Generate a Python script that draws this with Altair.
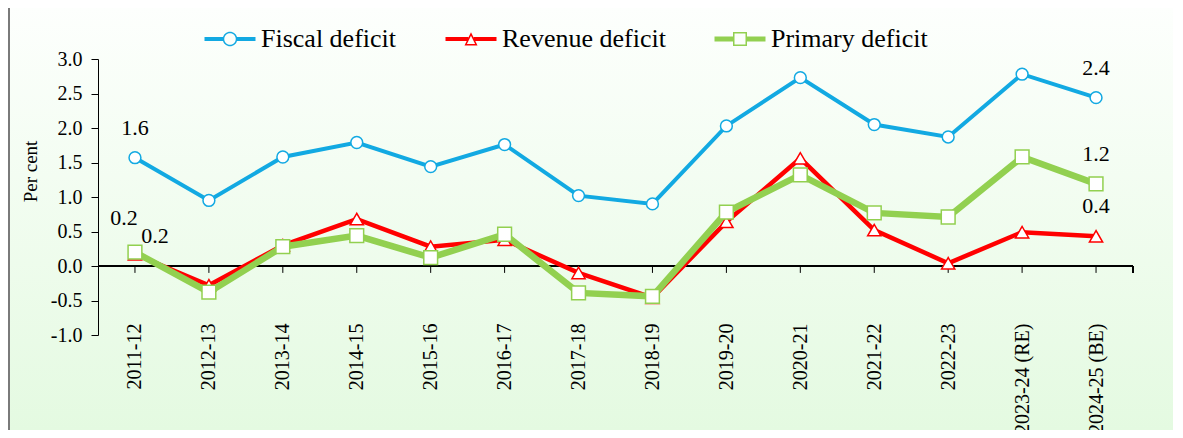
import math
import altair as alt
import pandas as pd

# ---------------- data ----------------
years = ["2011-12", "2012-13", "2013-14", "2014-15", "2015-16", "2016-17", "2017-18",
         "2018-19", "2019-20", "2020-21", "2021-22", "2022-23", "2023-24 (RE)", "2024-25 (BE)"]
fiscal = [1.57, 0.95, 1.58, 1.79, 1.44, 1.76, 1.02, 0.90, 2.03, 2.73, 2.05, 1.87, 2.78, 2.44]
revenue = [0.17, -0.28, 0.30, 0.68, 0.28, 0.38, -0.10, -0.46, 0.64, 1.56, 0.52, 0.04, 0.49, 0.43]
primary = [0.20, -0.38, 0.28, 0.44, 0.12, 0.46, -0.39, -0.44, 0.78, 1.32, 0.77, 0.71, 1.58, 1.19]

series_names = ["Fiscal deficit", "Revenue deficit", "Primary deficit"]
series_values = [fiscal, revenue, primary]
colors = ["#12A9E2", "#FF0000", "#92D050"]
y_ticks = [-1.0, -0.5, 0.0, 0.5, 1.0, 1.5, 2.0, 2.5, 3.0]

# labelled points (series, year)
labels_main = [("Fiscal deficit", "2011-12"), ("Fiscal deficit", "2024-25 (BE)"),
               ("Revenue deficit", "2024-25 (BE)"), ("Primary deficit", "2024-25 (BE)")]
label_left = [("Primary deficit", "2011-12")]
label_right = [("Revenue deficit", "2011-12")]

rows = []
for name, vals in zip(series_names, series_values):
    for yr, v in zip(years, vals):
        rows.append({"series": name, "year": yr, "value": v})
df = pd.DataFrame(rows)
df_years = pd.DataFrame({"year": years})


def pick(pairs):
    keys = set(pairs)
    return df[[(s, y) in keys for s, y in zip(df["series"], df["year"])]]


FONT = "Liberation Serif"
W, H = 1035, 276
PL, PT, PR, PB = 90, 51, 40, 95

# ---------------- legend symbol paths (line + hollow marker) ----------------
def poly(pts):
    return "M" + "L".join(f"{x:.3f},{y:.3f}" for x, y in pts) + "Z"


def circle(r, cw=True, n=36):
    pts = []
    for i in range(n):
        a = 2 * math.pi * i / n
        if not cw:
            a = -a
        pts.append((r * math.cos(a), r * math.sin(a)))
    return poly(pts)


def bars(inner, half, outer=5.1):
    return (poly([(-outer, -half), (-inner, -half), (-inner, half), (-outer, half)]) +
            poly([(inner, -half), (outer, -half), (outer, half), (inner, half)]))


p_circle = bars(1.35, 0.4) + circle(1.45, True) + circle(1.15, False)
p_tri = (bars(0.55, 0.4) + poly([(0, -1.35), (1.3, 1.3), (-1.3, 1.3)]) +
         poly([(0, -0.67), (-0.82, 1.0), (0.82, 1.0)]))
p_sq = (bars(1.4, 0.5) + poly([(-1.4, -1.4), (1.4, -1.4), (1.4, 1.4), (-1.4, 1.4)]) +
        poly([(-1.1, -1.1), (-1.1, 1.1), (1.1, 1.1), (1.1, -1.1)]))

legend = alt.Legend(
    orient="none", legendX=98, legendY=-33, direction="horizontal", title=None,
    labelFont=FONT, labelFontSize=26, labelColor="black", labelLimit=400, symbolSize=100,
    symbolOffset=21, labelOffset=18, columnPadding=40, zindex=1,
    symbolStrokeWidth=0, symbolOpacity=1,
)

x_scale = alt.Scale(type="point", domain=years, padding=0.5)
x_axis = alt.Axis(title=None, orient="bottom", domain=False, ticks=False, tickSize=0,
                  labelAngle=270, labelFont=FONT, labelFontSize=20, labelColor="black",
                  labelPadding=0, offset=-12, labelOverlap=False, zindex=1)
x_enc = alt.X("year:N", sort=years, scale=x_scale, axis=x_axis)

y_scale = alt.Scale(domain=[-1, 3], nice=False, zero=False)
y_axis = alt.Axis(values=y_ticks, labelExpr="replace(format(datum.value, '.1f'), '\u2212', '-')",
                  grid=False, domainColor="black", tickColor="black", tickSize=7,
                  labelPadding=9, labelFont=FONT, labelFontSize=20, labelColor="black",
                  labelOverlap=False,
                  title="Per cent", titleFont=FONT, titleFontSize=19, titleFontWeight="normal",
                  titleColor="black", titleX=-68, titleY=112, titleAngle=270,
                  titleAlign="center", titleBaseline="middle", zindex=1)
y_enc = alt.Y("value:Q", scale=y_scale, axis=y_axis)
y_zero = alt.Y(datum=0, type="quantitative", scale=y_scale, axis=y_axis)
y2_tick = alt.Y2(datum=-0.1)

# ---------------- layers ----------------
bg = alt.Chart(df_years).mark_rect(
    fill=alt.Gradient(gradient="linear", x1=0, x2=0, y1=0, y2=1,
                      stops=[alt.GradientStop(offset=0, color="#FDFFFD"),
                             alt.GradientStop(offset=1, color="#E4FAE1")]),
).encode(x=alt.value(-PL), x2=alt.value(W + PR), y=alt.value(-PT), y2=alt.value(H + PB))

border = alt.Chart(df_years).mark_rule(color="#7A7A7A", strokeWidth=2).encode(
    x=alt.value(-PL + 1), y=alt.value(-PT), y2=alt.value(H + PB))

zero_line = alt.Chart(df_years).mark_rule(color="black", strokeWidth=1).encode(
    x=alt.value(0), x2=alt.value(W), y=y_zero)

ticks = alt.Chart(df_years).mark_rule(color="black", strokeWidth=1).encode(
    x=x_enc, y=y_zero, y2=y2_tick)

end_tick = alt.Chart(df_years).mark_rule(color="black", strokeWidth=1).encode(
    x=alt.value(W), y=y_zero, y2=y2_tick)

# legend-only layer (no rows drawn): colour + custom shape
legend_layer = alt.Chart(df).transform_filter("datum.value > 100").mark_point(
    filled=True, opacity=1, size=100, strokeWidth=0).encode(
    x=x_enc, y=y_enc,
    color=alt.Color("series:N", scale=alt.Scale(domain=series_names, range=colors), legend=legend),
    shape=alt.Shape("series:N", scale=alt.Scale(domain=series_names, range=[p_circle, p_tri, p_sq]),
                    legend=legend),
)

layers = [bg, border, zero_line, ticks, end_tick, legend_layer]

widths = [4, 4.5, 6.5]
shapes = ["circle", "triangle-up", "square"]
sizes = [140, 175, 190]
for name, col, wdt, shp, sz in zip(series_names, colors, widths, shapes, sizes):
    sub = df[df["series"] == name]
    line = alt.Chart(sub).mark_line(strokeWidth=wdt, color=col).encode(x=x_enc, y=y_enc)
    pts = alt.Chart(sub).mark_point(shape=shp, filled=True, fill="white", stroke=col,
                                    strokeWidth=1.5, size=sz, opacity=1).encode(x=x_enc, y=y_enc)
    layers += [line, pts]

text_style = dict(font=FONT, fontSize=22, color="black", align="center", baseline="middle")
t_main = alt.Chart(pick(labels_main)).mark_text(dy=-30, **text_style).encode(
    x=x_enc, y=y_enc, text=alt.Text("value:Q", format=".1f"))
t_left = alt.Chart(pick(label_left)).mark_text(dx=-11, dy=-34, **text_style).encode(
    x=x_enc, y=y_enc, text=alt.Text("value:Q", format=".1f"))
t_right = alt.Chart(pick(label_right)).mark_text(dx=20, dy=-18, **text_style).encode(
    x=x_enc, y=y_enc, text=alt.Text("value:Q", format=".1f"))
layers += [t_main, t_left, t_right]

chart = alt.layer(*layers).properties(
    width=W, height=H,
    autosize=alt.AutoSizeParams(type="none"),
    padding={"left": PL, "top": PT, "right": PR, "bottom": PB},
    background="white",
).configure_view(stroke=None).configure_axisY(
    titleFont=FONT, titleFontSize=19, titleFontWeight="normal", titleColor="black"
)

chart.save("out.html", embed_options={"renderer": "svg", "actions": False})
